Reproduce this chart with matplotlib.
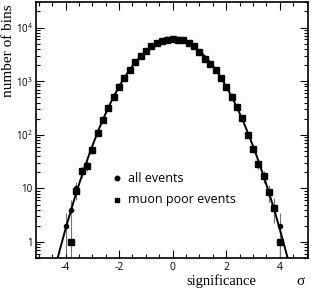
import numpy as np
import matplotlib
matplotlib.use('Agg')
import matplotlib.pyplot as plt
import matplotlib.ticker as ticker

# bin centres (significance) and counts
bin_centres = [-4.0, -3.8, -3.6, -3.4, -3.2, -3.0, -2.8, -2.6, -2.4, -2.2, -2.0,
               -1.8, -1.6, -1.4, -1.2, -1.0, -0.8, -0.6, -0.4, -0.2, 0.0,
               0.2, 0.4, 0.6, 0.8, 1.0, 1.2, 1.4, 1.6, 1.8, 2.0,
               2.2, 2.4, 2.6, 2.8, 3.0, 3.2, 3.4, 3.6, 3.8, 4.0]
all_events = [2, 4, 10, 20, 27, 52, 112, 190, 315, 520, 800,
              1150, 1630, 2330, 2980, 3640, 4470, 5150, 5700, 6000, 6100,
              6000, 5780, 5150, 4470, 3480, 2650, 2100, 1630, 1150, 780,
              520, 330, 205, 100, 55, 29, 17, 8.6, 4.5, 2]
muon_poor = [np.nan, 1, 9, 21, 26, 51, 110, 188, 312, 515, 795,
             1140, 1620, 2320, 2970, 3620, 4450, 5130, 5680, 5980, 6080,
             5980, 5760, 5130, 4450, 3460, 2640, 2090, 1620, 1140, 775,
             515, 328, 203, 99, 54, 28, 17, 8.4, 4.3, 1]

# gaussian fit parameters (amplitude, mean, width)
fit_amp = 6100
fit_mean = 0.0
fit_sigma = 0.99

x_ticks = [-4, -2, 0, 2, 4]
y_ticks = [1, 10, 100, 1000, 10000]
y_tick_labels = ['1', '10', r'$\mathregular{10^2}$', r'$\mathregular{10^3}$', r'$\mathregular{10^4}$']

sans = ['Open Sans', 'DejaVu Sans']
serif = ['Liberation Serif', 'DejaVu Serif']

fig = plt.figure(figsize=(3.11, 2.91), dpi=100)
ax = fig.add_axes([0.116, 0.113, 0.874, 0.880])

x = np.array(bin_centres)
ae = np.array(all_events, dtype=float)
mp = np.array(muon_poor, dtype=float)

# error bars (sqrt N)
ax.errorbar(x, ae, yerr=np.sqrt(ae), fmt='none', ecolor='0.45', elinewidth=0.8, zorder=2)
ax.errorbar(x, mp, yerr=np.sqrt(mp), fmt='none', ecolor='0.45', elinewidth=0.8, zorder=2)

# fit curve
xf = np.linspace(-4.6, 4.6, 400)
ax.plot(xf, fit_amp * np.exp(-(xf - fit_mean) ** 2 / (2 * fit_sigma ** 2)),
        color='black', lw=1.4, zorder=3)

ax.plot(x, ae, 'o', color='black', ms=3.0, zorder=4)
ax.plot(x, mp, 's', color='black', ms=3.7, zorder=5)

ax.set_yscale('log')
ax.set_xlim(-5.1, 5.05)
ax.set_ylim(0.5, 3e4)

ax.set_xticks(x_ticks)
ax.set_xticklabels([str(t) for t in x_ticks], fontfamily=sans, fontsize=7.5)
ax.xaxis.set_minor_locator(ticker.MultipleLocator(0.5))
ax.set_yticks(y_ticks)
ax.set_yticklabels(y_tick_labels, fontfamily=sans, fontsize=7)
ax.yaxis.set_minor_locator(ticker.LogLocator(base=10, subs=np.arange(2, 10)))
ax.yaxis.set_minor_formatter(ticker.NullFormatter())

ax.tick_params(which='both', direction='in', top=True, right=True, width=0.8)
ax.tick_params(which='major', length=6, pad=2.5)
ax.tick_params(which='minor', length=3)
for s in ax.spines.values():
    s.set_linewidth(1.2)

# axis labels
fig.text(0.027, 0.985, 'number of bins', rotation=90, ha='center', va='top',
         fontfamily=serif, fontsize=11)
fig.text(0.825, 0.022, 'significance', ha='right', va='baseline',
         fontfamily=serif, fontsize=10.5)
fig.text(0.965, 0.022, 'σ', ha='center', va='baseline',
         fontfamily=serif, fontsize=11)

# legend
ax.plot([-2.06], [15.5], 'o', color='black', ms=3.2)
ax.text(-1.68, 15.5, 'all events', va='center', fontfamily=sans, fontsize=9)
ax.plot([-2.06], [6.1], 's', color='black', ms=3.4)
ax.text(-1.68, 6.1, 'muon poor events', va='center', fontfamily=sans, fontsize=9)

fig.savefig('out.png', dpi=100)
